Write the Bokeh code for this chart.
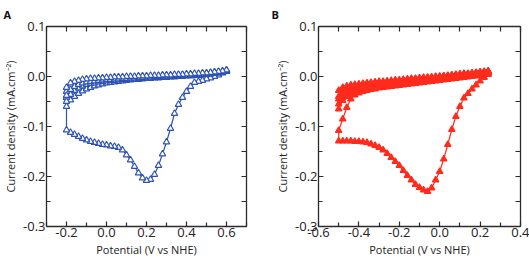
from bokeh.plotting import figure
from bokeh.layouts import row
from bokeh.models import LinearAxis, FixedTicker, PrintfTickFormatter, Range1d
from bokeh.embed import file_html
from bokeh.resources import INLINE

# ---------------- Panel A: potential grid (V vs NHE) and sweeps (mA cm^-2) ----------------
potential_a = [-0.20, -0.18, -0.16, -0.14, -0.12, -0.10, -0.08, -0.06, -0.04, -0.02,
               0.00, 0.02, 0.04, 0.06, 0.08, 0.10, 0.12, 0.14, 0.16, 0.18,
               0.20, 0.22, 0.24, 0.26, 0.28, 0.30, 0.32, 0.34, 0.36, 0.38,
               0.40, 0.42, 0.44, 0.46, 0.48, 0.50, 0.52, 0.54, 0.56, 0.58, 0.60]

# first cathodic sweep (listed by increasing potential)
a_cathodic_1 = [-0.107, -0.112, -0.116, -0.120, -0.124, -0.127, -0.130, -0.132, -0.134, -0.136,
                -0.137, -0.139, -0.140, -0.142, -0.147, -0.157, -0.167, -0.180, -0.193, -0.203,
                -0.208, -0.206, -0.196, -0.178, -0.155, -0.131, -0.104, -0.074, -0.056, -0.042,
                -0.030, -0.020, -0.012, -0.010, -0.008, -0.005, -0.003, 0.000, 0.003, 0.007, 0.010]
a_anodic_1 = [-0.060, -0.047, -0.040, -0.034, -0.029, -0.025, -0.022, -0.019, -0.017, -0.015,
              -0.013, -0.012, -0.011, -0.010, -0.009, -0.008, -0.007, -0.006, -0.006, -0.005,
              -0.004, -0.004, -0.003, -0.003, -0.002, -0.002, -0.001, -0.001, 0.000, 0.000,
              0.001, 0.001, 0.002, 0.002, 0.003, 0.004, 0.005, 0.006, 0.007, 0.008, 0.010]
a_cathodic_2 = [-0.042, -0.028, -0.021, -0.017, -0.014, -0.012, -0.011, -0.010, -0.009, -0.008,
                -0.007, -0.006, -0.006, -0.005, -0.005, -0.004, -0.004, -0.003, -0.003, -0.002,
                -0.002, -0.002, -0.001, -0.001, 0.000, 0.000, 0.000, 0.001, 0.001, 0.002,
                0.002, 0.002, 0.003, 0.003, 0.004, 0.004, 0.005, 0.006, 0.007, 0.008, 0.011]
a_anodic_2 = [-0.050, -0.036, -0.028, -0.023, -0.019, -0.016, -0.014, -0.013, -0.011, -0.010,
              -0.009, -0.008, -0.008, -0.007, -0.006, -0.006, -0.005, -0.005, -0.004, -0.004,
              -0.003, -0.003, -0.002, -0.002, -0.001, -0.001, 0.000, 0.000, 0.001, 0.001,
              0.002, 0.002, 0.003, 0.003, 0.004, 0.005, 0.006, 0.007, 0.008, 0.009, 0.011]
a_cathodic_3 = [-0.030, -0.018, -0.013, -0.010, -0.008, -0.007, -0.006, -0.005, -0.005, -0.004,
                -0.004, -0.003, -0.003, -0.002, -0.002, -0.002, -0.001, -0.001, -0.001, 0.000,
                0.000, 0.000, 0.001, 0.001, 0.001, 0.002, 0.002, 0.002, 0.003, 0.003,
                0.003, 0.004, 0.004, 0.005, 0.005, 0.006, 0.007, 0.008, 0.009, 0.010, 0.012]
a_anodic_3 = [-0.038, -0.026, -0.020, -0.016, -0.013, -0.011, -0.010, -0.009, -0.008, -0.007,
              -0.006, -0.006, -0.005, -0.005, -0.004, -0.004, -0.003, -0.003, -0.002, -0.002,
              -0.001, -0.001, 0.000, 0.000, 0.001, 0.001, 0.001, 0.002, 0.002, 0.003,
              0.003, 0.003, 0.004, 0.004, 0.005, 0.006, 0.007, 0.008, 0.009, 0.010, 0.012]
a_cathodic_4 = [-0.022, -0.013, -0.010, -0.008, -0.006, -0.005, -0.004, -0.004, -0.003, -0.003,
                -0.002, -0.002, -0.001, -0.001, -0.001, 0.000, 0.000, 0.000, 0.001, 0.001,
                0.001, 0.002, 0.002, 0.002, 0.003, 0.003, 0.003, 0.004, 0.004, 0.004,
                0.005, 0.005, 0.006, 0.006, 0.007, 0.007, 0.008, 0.009, 0.010, 0.011, 0.013]

# ---------------- Panel B ----------------
potential_b = [-0.50, -0.48, -0.46, -0.44, -0.42, -0.40, -0.38, -0.36, -0.34, -0.32,
               -0.30, -0.28, -0.26, -0.24, -0.22, -0.20, -0.18, -0.16, -0.14, -0.12,
               -0.10, -0.08, -0.06, -0.04, -0.02, 0.00, 0.02, 0.04, 0.06, 0.08,
               0.10, 0.12, 0.14, 0.16, 0.18, 0.20, 0.22, 0.24]

b_cathodic_1 = [-0.129, -0.129, -0.129, -0.129, -0.130, -0.130, -0.131, -0.132, -0.135, -0.138,
                -0.142, -0.147, -0.154, -0.162, -0.170, -0.178, -0.188, -0.198, -0.207, -0.216,
                -0.222, -0.227, -0.230, -0.223, -0.207, -0.190, -0.165, -0.136, -0.106, -0.080,
                -0.060, -0.043, -0.034, -0.025, -0.017, -0.009, -0.002, 0.004]
b_anodic_1 = [-0.108, -0.085, -0.062, -0.045, -0.037, -0.033, -0.030, -0.028, -0.026, -0.025,
              -0.023, -0.022, -0.021, -0.020, -0.019, -0.018, -0.017, -0.016, -0.015, -0.014,
              -0.013, -0.012, -0.011, -0.010, -0.009, -0.008, -0.007, -0.006, -0.005, -0.004,
              -0.003, -0.002, -0.001, 0.000, 0.001, 0.002, 0.004, 0.006]
b_cathodic_2 = [-0.065, -0.048, -0.040, -0.035, -0.031, -0.028, -0.026, -0.024, -0.023, -0.022,
                -0.020, -0.019, -0.018, -0.017, -0.016, -0.015, -0.014, -0.013, -0.012, -0.011,
                -0.010, -0.009, -0.008, -0.007, -0.006, -0.005, -0.004, -0.003, -0.002, -0.001,
                0.000, 0.001, 0.002, 0.003, 0.004, 0.005, 0.006, 0.008]
b_anodic_2 = [-0.055, -0.042, -0.035, -0.030, -0.027, -0.025, -0.023, -0.022, -0.021, -0.020,
              -0.019, -0.018, -0.017, -0.016, -0.015, -0.014, -0.013, -0.012, -0.011, -0.010,
              -0.009, -0.008, -0.007, -0.006, -0.005, -0.004, -0.003, -0.002, -0.001, 0.000,
              0.001, 0.002, 0.003, 0.004, 0.005, 0.006, 0.007, 0.009]
b_cathodic_3 = [-0.040, -0.030, -0.025, -0.022, -0.020, -0.019, -0.018, -0.017, -0.016, -0.015,
                -0.014, -0.013, -0.012, -0.011, -0.010, -0.009, -0.008, -0.007, -0.006, -0.005,
                -0.004, -0.003, -0.002, -0.002, -0.001, 0.000, 0.001, 0.001, 0.002, 0.003,
                0.004, 0.005, 0.005, 0.006, 0.007, 0.008, 0.009, 0.010]
b_anodic_3 = [-0.045, -0.034, -0.028, -0.025, -0.023, -0.021, -0.020, -0.019, -0.018, -0.017,
              -0.016, -0.015, -0.014, -0.013, -0.012, -0.011, -0.010, -0.009, -0.008, -0.007,
              -0.006, -0.005, -0.004, -0.003, -0.002, -0.001, 0.000, 0.001, 0.002, 0.003,
              0.004, 0.004, 0.005, 0.006, 0.007, 0.008, 0.009, 0.010]
b_cathodic_4 = [-0.028, -0.022, -0.019, -0.017, -0.016, -0.015, -0.014, -0.013, -0.012, -0.011,
                -0.010, -0.010, -0.009, -0.008, -0.007, -0.007, -0.006, -0.005, -0.004, -0.004,
                -0.003, -0.002, -0.002, -0.001, 0.000, 0.000, 0.001, 0.002, 0.003, 0.004,
                0.005, 0.006, 0.006, 0.007, 0.008, 0.009, 0.010, 0.011]

y_ticks = [-0.3, -0.2, -0.1, 0.0, 0.1]
y_minor = [-0.25, -0.15, -0.05, 0.05]
a_x_ticks = [-0.2, 0.0, 0.2, 0.4, 0.6]
a_x_minor = [-0.3, -0.1, 0.1, 0.3, 0.5, 0.7]
b_x_ticks = [-0.6, -0.4, -0.2, 0.0, 0.2, 0.4]
b_x_minor = [-0.5, -0.3, -0.1, 0.1, 0.3]

BLUE = "#2c52b4"
RED = "#ff2b1c"
AXIS = "#2b2b2b"
FONT = "Open Sans"


def scan_path(potential, cathodic, anodic):
    """Join sweeps in scan order: cathodic runs high->low, anodic low->high."""
    xs, ys = [], []
    for c, a in zip(cathodic, anodic + [None]):
        xs += potential[::-1]
        ys += c[::-1]
        if a is not None:
            xs += potential
            ys += a
    return xs, ys


def style_line(ax):
    ax.axis_line_color = AXIS
    ax.axis_line_width = 1.3
    ax.major_tick_line_color = AXIS
    ax.minor_tick_line_color = AXIS
    ax.major_tick_line_width = 1.2
    ax.minor_tick_line_width = 1.2
    ax.major_tick_in = 5
    ax.major_tick_out = 0
    ax.minor_tick_in = 4
    ax.minor_tick_out = 0


def style_labelled(ax, ticks, minor):
    ax.ticker = FixedTicker(ticks=ticks, minor_ticks=minor)
    ax.formatter = PrintfTickFormatter(format="%.1f")
    style_line(ax)
    ax.major_label_text_font = FONT
    ax.major_label_text_color = "#222222"
    ax.major_label_text_font_size = "13px"
    ax.major_label_standoff = 1
    ax.axis_label_text_font = FONT
    ax.axis_label_text_font_size = "11px"
    ax.axis_label_text_font_style = "normal"
    ax.axis_label_text_color = "#222222"
    ax.axis_label_standoff = 2


def mirror_axis(ticks, minor):
    # tick marks only: every position is handed over as a minor tick, so no labels are drawn
    ax = LinearAxis(ticker=FixedTicker(ticks=[], minor_ticks=sorted(ticks + minor)),
                    major_label_standoff=0, axis_label_standoff=0)
    style_line(ax)
    ax.minor_tick_in = 5
    return ax


def panel(letter, width, x_range, x_ticks, x_minor, path, color, fill, left, right, letter_x):
    p = figure(width=width, height=259, x_range=Range1d(*x_range), y_range=Range1d(-0.3, 0.1),
               output_backend="svg", toolbar_location=None, title=letter,
               min_border_left=left, min_border_right=right,
               min_border_top=25, min_border_bottom=32)
    p.grid.visible = False
    p.outline_line_color = None
    p.background_fill_color = "white"
    p.border_fill_color = "white"

    # panel letter, pushed to the upper-left corner of the figure
    p.title.text_font = FONT
    p.title.text_font_style = "bold"
    p.title.text_font_size = "11px"
    p.title.text_color = "#111111"
    p.title.align = "left"
    p.title.offset = letter_x - left
    p.title.standoff = 9

    p.xaxis.axis_label = "Potential (V vs NHE)"
    p.yaxis.axis_label = "Current density (mA.cm\u207b\u00b2)"
    style_labelled(p.xaxis[0], x_ticks, x_minor)
    style_labelled(p.yaxis[0], y_ticks, y_minor)

    p.add_layout(mirror_axis(x_ticks, x_minor), "above")
    p.add_layout(mirror_axis(y_ticks, y_minor), "right")

    xs, ys = path
    p.line(xs, ys, line_color=color, line_width=1.2)
    p.scatter(xs, ys, marker="triangle", size=6.5, line_color=color, line_width=1.1,
              fill_color=fill)
    return p


path_a = scan_path(potential_a,
                   [a_cathodic_1, a_cathodic_2, a_cathodic_3, a_cathodic_4],
                   [a_anodic_1, a_anodic_2, a_anodic_3])
path_b = scan_path(potential_b,
                   [b_cathodic_1, b_cathodic_2, b_cathodic_3, b_cathodic_4],
                   [b_anodic_1, b_anodic_2, b_anodic_3])

pa = panel("A", 264, (-0.3, 0.7), a_x_ticks, a_x_minor, path_a, BLUE, "white", 44, 18, 1)
pb = panel("B", 265, (-0.6, 0.4), b_x_ticks, b_x_minor, path_b, RED, RED, 54, 9, 7)

layout = row(pa, pb)
open("out.html", "w").write(file_html(layout, INLINE))
